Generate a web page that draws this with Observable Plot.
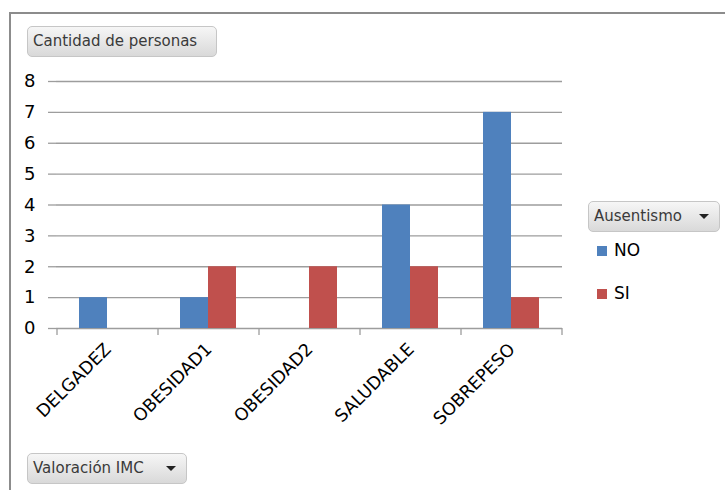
<!DOCTYPE html>
<html>
<head>
<meta charset="utf-8">
<script src="https://cdn.jsdelivr.net/npm/d3@7"></script>
<script src="https://cdn.jsdelivr.net/npm/@observablehq/plot@0.6"></script>
<style>
  body { margin: 0; background: #fff; }
  #chart { position: relative; width: 725px; height: 490px; overflow: hidden; font-family: "DejaVu Sans", sans-serif; }
  #chart svg { position: absolute; left: 0; top: 0; }
  #marco { position: absolute; left: 9px; top: 12px; width: 900px; height: 700px;
           border-left: 2px solid #8c8c8c; border-top: 2px solid #8c8c8c; }
  .boton { position: absolute; height: 31px; box-sizing: border-box; border: 1px solid #c6c6c6;
           border-radius: 5px; background: linear-gradient(#f6f6f6, #d9d9d9);
           font-size: 15px; color: #3a3a3a; line-height: 29px; padding-left: 5px; white-space: nowrap; }
  .flecha { position: absolute; top: 12px; width: 0; height: 0;
            border-left: 5px solid transparent; border-right: 5px solid transparent; border-top: 5px solid #222; }
  .item { position: absolute; font-size: 17px; color: #000; line-height: 20px; }
  .item i { display: inline-block; width: 10px; height: 10px; margin-right: 7px; vertical-align: 0px; }
</style>
</head>
<body>
<div id="chart">
  <div id="marco"></div>
</div>
<script>
// Categorías de valoración IMC y conteo de personas por ausentismo
const categorias = ["DELGADEZ", "OBESIDAD1", "OBESIDAD2", "SALUDABLE", "SOBREPESO"];
const series = ["NO", "SI"];
const valoresNO = [1, 1, 0, 4, 7];
const valoresSI = [0, 2, 2, 2, 1];
const ticksY = [0, 1, 2, 3, 4, 5, 6, 7, 8];
const colores = ["#4F81BD", "#C0504D"];

const filas = categorias.flatMap((c, i) => [
  {cat: c, serie: "NO", valor: valoresNO[i]},
  {cat: c, serie: "SI", valor: valoresSI[i]}
]);

const gris = "#9d9d9d";

// Marcas de división entre categorías, bajo el eje horizontal
function divisiones(index, {x, y}) {
  const bw = typeof x.bandwidth === "function" ? x.bandwidth() : x.bandwidth;
  const bordes = categorias.map(c => x(c)).concat([x(categorias[categorias.length - 1]) + bw]);
  const y0 = y(0);
  const g = d3.create("svg:g").attr("stroke", gris).attr("stroke-width", 1.3);
  for (const bx of bordes) {
    g.append("line").attr("x1", bx).attr("x2", bx).attr("y1", y0).attr("y2", y0 + 7);
  }
  return g.node();
}

const chart = Plot.plot({
  width: 725,
  height: 490,
  marginLeft: 56,
  marginRight: 163,
  marginTop: 81,
  marginBottom: 162,
  style: {fontFamily: "'DejaVu Sans', sans-serif", background: "transparent", color: "#000"},
  x: {domain: categorias, padding: 0, label: null},
  y: {domain: [0, 8], label: null},
  color: {domain: series, range: colores},
  marks: [
    Plot.ruleY(ticksY, {stroke: gris, strokeWidth: 1.3}),
    Plot.barY(filas.filter(d => d.serie === "NO"), {x: "cat", y: "valor", fill: "serie", insetLeft: 22, insetRight: 51}),
    Plot.barY(filas.filter(d => d.serie === "SI"), {x: "cat", y: "valor", fill: "serie", insetLeft: 50, insetRight: 23}),
    Plot.axisY({ticks: ticksY, tickSize: 8, tickPadding: 13, fontSize: 18, stroke: gris, strokeWidth: 1.3, fill: "#000", line: true, tickFormat: d3.format("d"), label: null}),
    Plot.axisX({tickSize: 0, tickPadding: 18, tickRotate: -45, fontSize: 17.5, fill: "#000", label: null}),
    divisiones
  ]
});

const cont = document.getElementById("chart");
cont.appendChild(chart);

function boton(texto, left, top, width, flecha) {
  const b = document.createElement("div");
  b.className = "boton";
  b.style.left = left + "px";
  b.style.top = top + "px";
  b.style.width = width + "px";
  b.textContent = texto;
  if (flecha) {
    const f = document.createElement("span");
    f.className = "flecha";
    f.style.left = (width - 22) + "px";
    b.appendChild(f);
  }
  cont.appendChild(b);
}
boton("Cantidad de personas", 27, 26, 190, false);
boton("Ausentismo", 588, 201, 132, true);
boton("Valoración IMC", 27, 453, 160, true);

// Leyenda de la serie Ausentismo
series.forEach((s, i) => {
  const it = document.createElement("div");
  it.className = "item";
  it.style.left = "597px";
  it.style.top = (240 + i * 43) + "px";
  const sw = document.createElement("i");
  sw.style.background = colores[i];
  it.appendChild(sw);
  it.appendChild(document.createTextNode(s));
  cont.appendChild(it);
});
</script>
</body>
</html>
